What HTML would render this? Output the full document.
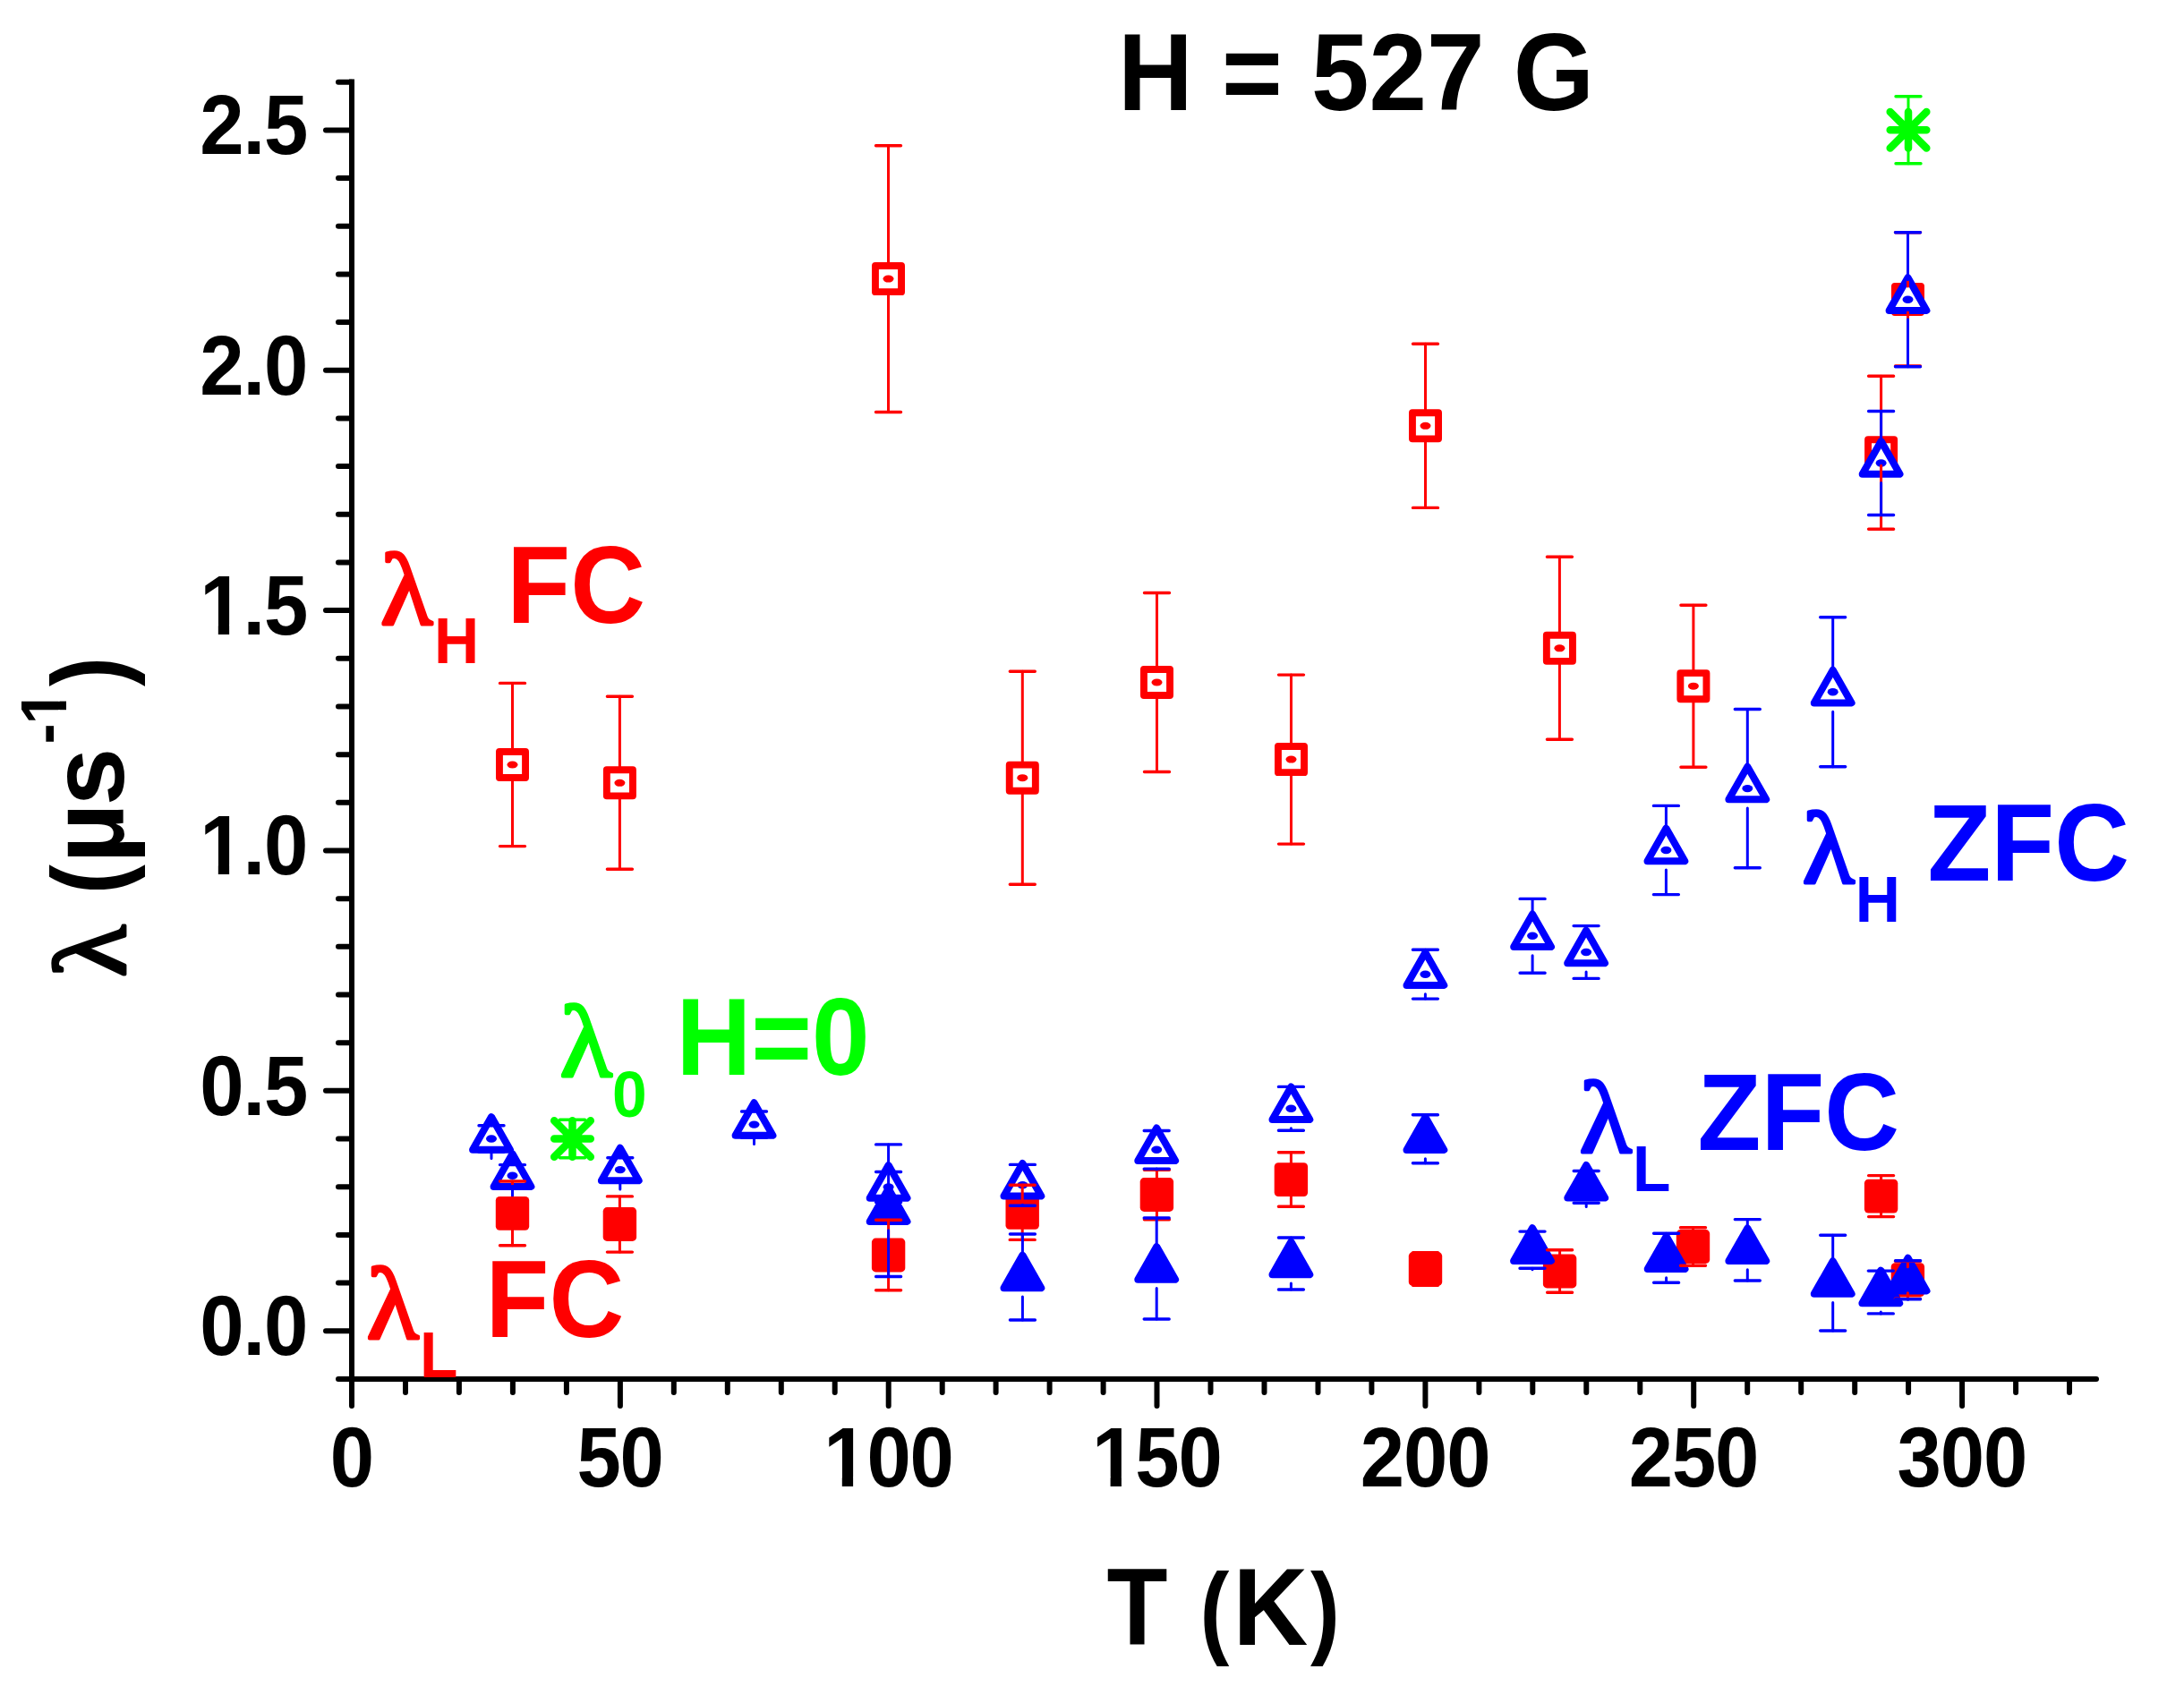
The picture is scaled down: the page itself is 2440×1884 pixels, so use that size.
<!DOCTYPE html>
<html lang="en"><head><meta charset="utf-8"><title>H = 527 G</title>
<style>html,body{margin:0;padding:0;background:#fff}svg{display:block}text{font-family:"Liberation Sans",sans-serif;font-weight:bold}.lam{font-family:"Liberation Serif",serif;font-weight:normal;stroke-width:3.4;stroke-linejoin:round}</style></head><body>
<svg width="2440" height="1884" viewBox="0 0 2440 1884">
<rect width="2440" height="1884" fill="#fff"/>
<g stroke="#000" stroke-width="6" fill="none">
<path d="M393 88.5V1541" stroke-linecap="butt"/>
<path d="M393 1541H2342" stroke-linecap="round"/>
</g>
<g stroke="#000" stroke-width="6" stroke-linecap="round" fill="none">
<path d="M393 1540.9H378M393 1487.2H364M393 1433.5H378M393 1379.9H378M393 1326.2H378M393 1272.5H378M393 1218.8H364M393 1165.2H378M393 1111.5H378M393 1057.8H378M393 1004.2H378M393 950.5H364M393 896.8H378M393 843.2H378M393 789.5H378M393 735.8H378M393 682.1H364M393 628.5H378M393 574.8H378M393 521.1H378M393 467.5H378M393 413.8H364M393 360.1H378M393 306.5H378M393 252.8H378M393 199.1H378M393 145.5H364M393 91.8H378"/>
<path d="M393 1541V1571M453 1541V1556M512.9 1541V1556M572.9 1541V1556M632.9 1541V1556M692.9 1541V1571M752.8 1541V1556M812.8 1541V1556M872.8 1541V1556M932.7 1541V1556M992.7 1541V1571M1052.7 1541V1556M1112.6 1541V1556M1172.6 1541V1556M1232.6 1541V1556M1292.5 1541V1571M1352.5 1541V1556M1412.5 1541V1556M1472.5 1541V1556M1532.4 1541V1556M1592.4 1541V1571M1652.4 1541V1556M1712.3 1541V1556M1772.3 1541V1556M1832.3 1541V1556M1892.2 1541V1571M1952.2 1541V1556M2012.2 1541V1556M2072.2 1541V1556M2132.1 1541V1556M2192.1 1541V1571M2252.1 1541V1556M2312 1541V1556"/>
</g>
<g font-size="90" fill="#000" letter-spacing="-1.1">
<g text-anchor="end">
<g transform="translate(343.2 1514) scale(0.985 1.05)"><text>0.0</text></g>
<g transform="translate(343.2 1245.6) scale(0.985 1.05)"><text>0.5</text></g>
<g transform="translate(343.2 977.3) scale(0.985 1.05)"><text>1.0</text><rect x="-119.1" y="-10.2" width="18.2" height="11.2" fill="#fff"/><rect x="-88.4" y="-10.2" width="17.1" height="11.2" fill="#fff"/></g>
<g transform="translate(343.2 708.9) scale(0.985 1.05)"><text>1.5</text><rect x="-119.1" y="-10.2" width="18.2" height="11.2" fill="#fff"/><rect x="-88.4" y="-10.2" width="17.1" height="11.2" fill="#fff"/></g>
<g transform="translate(343.2 440.6) scale(0.985 1.05)"><text>2.0</text></g>
<g transform="translate(343.2 172.3) scale(0.985 1.05)"><text>2.5</text></g>
</g><g text-anchor="middle">
<g transform="translate(392.8 1661.2) scale(0.985 1.05)"><text>0</text></g>
<g transform="translate(692.6 1661.2) scale(0.985 1.05)"><text>50</text></g>
<g transform="translate(992.5 1661.2) scale(0.985 1.05)"><text>100</text><rect x="-70.7" y="-10.2" width="18.2" height="11.2" fill="#fff"/><rect x="-40" y="-10.2" width="17.1" height="11.2" fill="#fff"/></g>
<g transform="translate(1292.3 1661.2) scale(0.985 1.05)"><text>150</text><rect x="-70.7" y="-10.2" width="18.2" height="11.2" fill="#fff"/><rect x="-40" y="-10.2" width="17.1" height="11.2" fill="#fff"/></g>
<g transform="translate(1592.2 1661.2) scale(0.985 1.05)"><text>200</text></g>
<g transform="translate(1892 1661.2) scale(0.985 1.05)"><text>250</text></g>
<g transform="translate(2191.9 1661.2) scale(0.985 1.05)"><text>300</text></g>
</g></g>
<g font-size="116" fill="#000">
<g transform="translate(1249 122.8) scale(1 1.05)"><text>H = 527 G</text></g>
<g transform="translate(1236.5 1837.8) scale(0.96 1.05)"><text>T</text></g><g transform="translate(1340.5 1837.8) scale(0.85 0.985)"><text>(</text></g><g transform="translate(1377.5 1837.8) scale(1 1.05)"><text>K</text></g><g transform="translate(1464 1837.8) scale(0.85 0.985)"><text>)</text></g>
<g transform="translate(138.4 1090.4) rotate(-90)">
<text class="lam" fill="#000" stroke="#000" transform="translate(-1.5 0.4) scale(1.04 0.983)">λ</text>
<g transform="translate(91.5 0) scale(0.85 0.985)"><text>(</text></g><g transform="translate(126 0) scale(1 1.0)"><text>µ</text></g><g transform="translate(190.2 0) scale(1 1.0)"><text>s</text></g>
<g transform="translate(259 -64.8) scale(1 1.05)"><text font-size="69.5">-</text></g><g transform="translate(281 -64.8) scale(1 1.05)"><text font-size="69.5">1</text><rect x="2.1" y="-7.9" width="14.1" height="8.7" fill="#fff"/><rect x="25.8" y="-7.9" width="13.2" height="8.7" fill="#fff"/></g>
<g transform="translate(323.5 0) scale(0.85 0.985)"><text>)</text></g>
</g></g>
<defs>
<g id="ro"><rect x="-14.55" y="-14.55" width="29.1" height="29.1" fill="#fff" stroke="#f00" stroke-width="7.9" stroke-linejoin="round"/><ellipse rx="6" ry="4" fill="#f00"/></g>
<rect id="rf" x="-18.7" y="-18.9" width="37.4" height="37.8" rx="4.5" fill="#f00"/>
<g id="bo"><path d="M0 -24.4L20.9 12.2H-20.9Z" fill="#fff" stroke="#00f" stroke-width="8" stroke-linejoin="round"/><ellipse rx="6" ry="4.2" fill="#00f"/></g>
<path id="bf" d="M0 -24.4L20.9 12.2H-20.9Z" fill="#00f" stroke="#00f" stroke-width="8" stroke-linejoin="round"/>
<path id="gs" d="M0 -20.3V20.3M-20.3 0H20.3M-20.3 -20.3L20.3 20.3M-20.3 20.3L20.3 -20.3" fill="none" stroke="#0f0" stroke-width="8.5" stroke-linecap="round"/>
</defs>
<g><use href="#rf" x="572.5" y="1355.9"/><use href="#rf" x="692.4" y="1368"/><use href="#rf" x="992.6" y="1402.5"/><use href="#rf" x="1142.2" y="1354.8"/><use href="#rf" x="1292.4" y="1335"/><use href="#rf" x="1442.4" y="1318.1"/><use href="#rf" x="1592.5" y="1418"/><use href="#rf" x="1742.6" y="1420.5"/><use href="#rf" x="1891.5" y="1393"/><use href="#rf" x="2101.6" y="1336.6"/><use href="#rf" x="2131.4" y="1430.2"/></g>
<g><use href="#ro" x="572.5" y="854.5"/><use href="#ro" x="692.4" y="874.8"/><use href="#ro" x="992.5" y="311.6"/><use href="#ro" x="1142.3" y="869.2"/><use href="#ro" x="1292.5" y="762.5"/><use href="#ro" x="1442.5" y="848.6"/><use href="#ro" x="1592.5" y="475.8"/><use href="#ro" x="1742.4" y="724.3"/><use href="#ro" x="1891.9" y="766.7"/><use href="#ro" x="2101.6" y="505.8"/><use href="#ro" x="2131.5" y="334.4"/></g>
<g><use href="#bo" x="549" y="1272.5"/><use href="#bo" x="572.5" y="1313.7"/><use href="#bo" x="692.8" y="1307.1"/><use href="#bo" x="842.5" y="1256.6"/><use href="#bo" x="992.6" y="1326.5"/><use href="#bo" x="1142.4" y="1324.3"/><use href="#bo" x="1292.2" y="1284.8"/><use href="#bo" x="1442.4" y="1238.8"/><use href="#bo" x="1592.4" y="1088.7"/><use href="#bo" x="1712.1" y="1045.8"/><use href="#bo" x="1772.1" y="1064"/><use href="#bo" x="1861.4" y="950"/><use href="#bo" x="1952.3" y="881.1"/><use href="#bo" x="2047.7" y="773.2"/><use href="#bo" x="2101.6" y="517.5"/><use href="#bo" x="2131.5" y="334.7"/></g>
<g><use href="#bf" x="992.6" y="1352.7"/><use href="#bf" x="1142.4" y="1427"/><use href="#bf" x="1292.2" y="1417.5"/><use href="#bf" x="1442.4" y="1412"/><use href="#bf" x="1592.4" y="1272.7"/><use href="#bf" x="1712" y="1396.7"/><use href="#bf" x="1772.2" y="1326.4"/><use href="#bf" x="1861.6" y="1405.8"/><use href="#bf" x="1952.3" y="1396.8"/><use href="#bf" x="2047.7" y="1433.6"/><use href="#bf" x="2101.3" y="1444"/><use href="#bf" x="2131.6" y="1430.2"/></g>
<g fill="none" stroke="#f00" stroke-linecap="round"><path stroke-width="3" d="M572.5 1341.4V1320M572.5 1370.4V1391.8M692.4 1353.5V1336.9M692.4 1382.5V1399.1M992.6 1388V1363.3M992.6 1417V1441.7M1142.2 1340.3V1324.2M1142.2 1369.3V1385.4M1292.4 1320.5V1307.3M1292.4 1349.5V1362.7M1442.4 1303.6V1287.8M1442.4 1332.6V1348.3M1592.5 1403.5V1399.8M1592.5 1432.5V1436.2M1742.6 1406V1396.8M1742.6 1435V1444.2M1891.5 1378.5V1371.7M1891.5 1407.5V1414.3M2101.6 1322.1V1313.6M2101.6 1351.1V1359.6M2131.4 1415.7V1409.2M2131.4 1444.7V1451.2M572.5 840V763.4M572.5 869V945.6M692.4 860.3V778.3M692.4 889.3V971.3M992.5 297.1V162.7M992.5 326.1V460.5M1142.3 854.7V750.2M1142.3 883.7V988.2M1292.5 748V662.5M1292.5 777V862.5M1442.5 834.1V754.1M1442.5 863.1V943.1M1592.5 461.3V384.2M1592.5 490.3V567.4M1742.4 709.8V622.3M1742.4 738.8V826.3M1891.9 752.2V676.2M1891.9 781.2V857.2M2101.6 491.3V420.3M2101.6 520.3V591.3M2131.5 319.9V259.8M2131.5 348.9V409"/><path stroke-width="3.4" d="M558.5 1320H586.5M558.5 1391.8H586.5M678.4 1336.9H706.4M678.4 1399.1H706.4M978.6 1363.3H1006.6M978.6 1441.7H1006.6M1128.2 1324.2H1156.2M1128.2 1385.4H1156.2M1278.4 1307.3H1306.4M1278.4 1362.7H1306.4M1428.4 1287.8H1456.4M1428.4 1348.3H1456.4M1578.5 1399.8H1606.5M1578.5 1436.2H1606.5M1728.6 1396.8H1756.6M1728.6 1444.2H1756.6M1877.5 1371.7H1905.5M1877.5 1414.3H1905.5M2087.6 1313.6H2115.6M2087.6 1359.6H2115.6M2117.4 1409.2H2145.4M2117.4 1451.2H2145.4M558.5 763.4H586.5M558.5 945.6H586.5M678.4 778.3H706.4M678.4 971.3H706.4M978.5 162.7H1006.5M978.5 460.5H1006.5M1128.3 750.2H1156.3M1128.3 988.2H1156.3M1278.5 662.5H1306.5M1278.5 862.5H1306.5M1428.5 754.1H1456.5M1428.5 943.1H1456.5M1578.5 384.2H1606.5M1578.5 567.4H1606.5M1728.4 622.3H1756.4M1728.4 826.3H1756.4M1877.9 676.2H1905.9M1877.9 857.2H1905.9M2087.6 420.3H2115.6M2087.6 591.3H2115.6M2117.5 259.8H2145.5M2117.5 409H2145.5"/></g>
<g fill="none" stroke="#00f" stroke-linecap="round"><path stroke-width="3" d="M549 1250.5V1257.7M549 1294.5V1287.3M572.5 1291.7V1301.6M572.5 1335.7V1325.8M692.8 1285.1V1293.7M692.8 1329.1V1320.5M842.5 1234.6V1242M842.5 1278.6V1271.2M992.6 1304.5V1309.5M992.6 1348.5V1343.5M1142.4 1302.3V1301.4M1142.4 1346.3V1347.2M1292.2 1262.8V1263.5M1292.2 1306.8V1306.1M1442.4 1216.8V1214.4M1442.4 1260.8V1263.2M1592.4 1066.7V1061.3M1592.4 1110.7V1116.1M1712.1 1023.8V1004.4M1712.1 1067.8V1087.2M1772.1 1042V1034.6M1772.1 1086V1093.4M1861.4 928V900.4M1861.4 972V999.6M1952.3 859.1V792.5M1952.3 903.1V969.7M2047.7 751.2V689.7M2047.7 795.2V856.7M2101.6 495.5V459.5M2101.6 539.5V575.5M2131.5 312.7V259.7M2131.5 356.7V409.7M992.6 1330.7V1278.9M992.6 1374.7V1426.5M1142.4 1405V1379M1142.4 1449V1475M1292.2 1395.5V1361M1292.2 1439.5V1474M1442.4 1390V1383M1442.4 1434V1441M1592.4 1250.7V1245.7M1592.4 1294.7V1299.7M1712 1374.7V1376.1M1712 1418.7V1417.3M1772.2 1304.4V1308.5M1772.2 1348.4V1344.3M1861.6 1383.8V1378.3M1861.6 1427.8V1433.3M1952.3 1374.8V1362.6M1952.3 1418.8V1431M2047.7 1411.6V1380.2M2047.7 1455.6V1487M2101.3 1422V1420.1M2101.3 1466V1467.9M2131.6 1408.2V1408.7M2131.6 1452.2V1451.7"/><path stroke-width="3.4" d="M535 1257.7H563M535 1287.3H563M558.5 1301.6H586.5M558.5 1325.8H586.5M678.8 1293.7H706.8M678.8 1320.5H706.8M828.5 1242H856.5M828.5 1271.2H856.5M978.6 1309.5H1006.6M978.6 1343.5H1006.6M1128.4 1301.4H1156.4M1128.4 1347.2H1156.4M1278.2 1263.5H1306.2M1278.2 1306.1H1306.2M1428.4 1214.4H1456.4M1428.4 1263.2H1456.4M1578.4 1061.3H1606.4M1578.4 1116.1H1606.4M1698.1 1004.4H1726.1M1698.1 1087.2H1726.1M1758.1 1034.6H1786.1M1758.1 1093.4H1786.1M1847.4 900.4H1875.4M1847.4 999.6H1875.4M1938.3 792.5H1966.3M1938.3 969.7H1966.3M2033.7 689.7H2061.7M2033.7 856.7H2061.7M2087.6 459.5H2115.6M2087.6 575.5H2115.6M2117.5 259.7H2145.5M2117.5 409.7H2145.5M978.6 1278.9H1006.6M978.6 1426.5H1006.6M1128.4 1379H1156.4M1128.4 1475H1156.4M1278.2 1361H1306.2M1278.2 1474H1306.2M1428.4 1383H1456.4M1428.4 1441H1456.4M1578.4 1245.7H1606.4M1578.4 1299.7H1606.4M1698 1376.1H1726M1698 1417.3H1726M1758.2 1308.5H1786.2M1758.2 1344.3H1786.2M1847.6 1378.3H1875.6M1847.6 1433.3H1875.6M1938.3 1362.6H1966.3M1938.3 1431H1966.3M2033.7 1380.2H2061.7M2033.7 1487H2061.7M2087.3 1420.1H2115.3M2087.3 1467.9H2115.3M2117.6 1408.7H2145.6M2117.6 1451.7H2145.6"/></g>
<g fill="none" stroke="#0f0" stroke-linecap="round"><path stroke-width="3" d="M639.5 1252.5V1251.2M639.5 1292.5V1293.8M2132 125.3V107.8M2132 165.3V182.8"/><path stroke-width="3.4" d="M625.5 1251.2H653.5M625.5 1293.8H653.5M2118 107.8H2146M2118 182.8H2146"/></g>
<g><use href="#gs" x="639.5" y="1272.5"/><use href="#gs" x="2132" y="145.3"/></g>
<g fill="#f00" font-size="116"><text class="lam" fill="#f00" stroke="#f00" transform="translate(425 696.8) scale(1.04 0.983)">λ</text><g transform="translate(484.9 740.6) scale(1 1.05)"><text font-size="69.5">H</text></g><g transform="translate(566.3 696) scale(1 1.05)"><text>FC</text></g></g>
<g fill="#f00" font-size="116"><text class="lam" fill="#f00" stroke="#f00" transform="translate(409.5 1495.1) scale(1.04 0.983)">λ</text><g transform="translate(468.9 1539) scale(1 1.05)"><text font-size="69.5">L</text></g><g transform="translate(542.6 1494) scale(1 1.05)"><text>FC</text></g></g>
<g fill="#0f0" font-size="116"><text class="lam" fill="#0f0" stroke="#0f0" transform="translate(625.5 1201.8) scale(1.04 0.983)">λ</text><g transform="translate(684 1248) scale(1 1.05)"><text font-size="69.5">0</text></g><g transform="translate(755.4 1201) scale(1 1.05)"><text>H=0</text></g></g>
<g fill="#00f" font-size="116"><text class="lam" fill="#00f" stroke="#00f" transform="translate(1764.5 1286.7) scale(1.04 0.983)">λ</text><g transform="translate(1823.9 1330.8) scale(1 1.05)"><text font-size="69.5">L</text></g><g transform="translate(1896.6 1285) scale(1 1.05)"><text>ZFC</text></g></g>
<g fill="#00f" font-size="116"><text class="lam" fill="#00f" stroke="#00f" transform="translate(2013.5 985.8) scale(1.04 0.983)">λ</text><g transform="translate(2072.8 1029.9) scale(1 1.05)"><text font-size="69.5">H</text></g><g transform="translate(2153.5 983.8) scale(1 1.05)"><text>ZFC</text></g></g>
</svg></body></html>
